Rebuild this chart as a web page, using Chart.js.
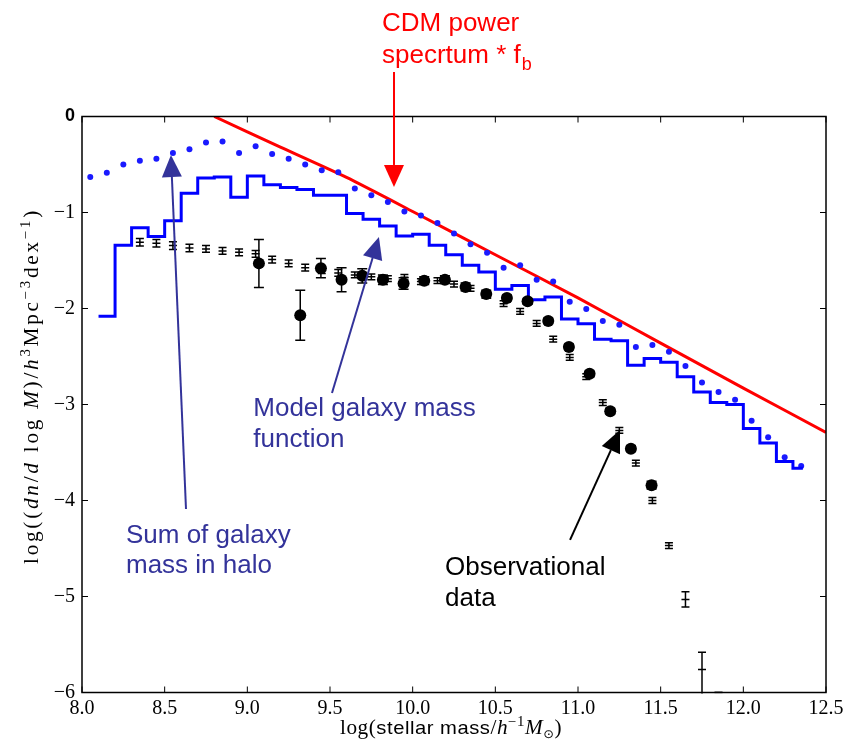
<!DOCTYPE html>
<html><head><meta charset="utf-8">
<script src="https://cdn.jsdelivr.net/npm/chart.js@4.4.0/dist/chart.umd.min.js"></script>
<style>html,body{margin:0;padding:0;background:#fff;}canvas{display:block}</style>
</head><body>
<canvas id="c" width="852" height="739"></canvas>
<script>
// ---- tick labels ----
const xTicks = [8.0, 8.5, 9.0, 9.5, 10.0, 10.5, 11.0, 11.5, 12.0, 12.5];
const yTicks = [0, -1, -2, -3, -4, -5, -6];

// ---- CDM power spectrum * f_b (red curve) ----
const cdmX = [8.8, 9.2, 9.6, 10.0, 10.5, 11.0, 11.5, 12.0, 12.5];
const cdmY = [0.0, -0.32, -0.635, -0.99, -1.44, -1.89, -2.36, -2.83, -3.29];

// ---- Model galaxy mass function (blue step line, left bin edges) ----
const modelX = [8.1, 8.2, 8.3, 8.4, 8.5, 8.6, 8.7, 8.8, 8.9, 9.0, 9.1, 9.2, 9.3, 9.4, 9.5,
  9.6, 9.7, 9.8, 9.9, 10.0, 10.1, 10.2, 10.3, 10.4, 10.5, 10.6, 10.7, 10.8, 10.9, 11.0,
  11.1, 11.2, 11.3, 11.4, 11.5, 11.6, 11.7, 11.8, 11.9, 12.0, 12.1, 12.2, 12.3, 12.36];
const modelY = [-2.08, -1.34, -1.16, -1.25, -1.085, -0.80, -0.64, -0.63, -0.84, -0.62, -0.71, -0.74, -0.76, -0.82, -0.82,
  -1.01, -1.07, -1.14, -1.245, -1.227, -1.34, -1.44, -1.55, -1.62, -1.80, -1.76, -1.91, -1.88, -2.11, -2.16,
  -2.32, -2.335, -2.59, -2.52, -2.56, -2.71, -2.87, -2.98, -3.00, -3.25, -3.40, -3.595, -3.665, -3.665];

// ---- Sum of galaxy mass in halo (blue dots) ----
const haloX = [8.05, 8.15, 8.25, 8.35, 8.45, 8.55, 8.65, 8.75, 8.85, 8.95, 9.05, 9.15, 9.25, 9.35, 9.45,
  9.55, 9.65, 9.75, 9.85, 9.95, 10.05, 10.15, 10.25, 10.35, 10.45, 10.55, 10.65, 10.75, 10.85, 10.95,
  11.05, 11.15, 11.25, 11.35, 11.45, 11.55, 11.65, 11.75, 11.85, 11.95, 12.05, 12.15, 12.25, 12.35];
const haloY = [-0.63, -0.585, -0.50, -0.46, -0.44, -0.38, -0.34, -0.27, -0.26, -0.38, -0.31, -0.39, -0.44, -0.50, -0.56,
  -0.58, -0.75, -0.82, -0.89, -0.99, -1.03, -1.11, -1.22, -1.33, -1.42, -1.575, -1.55, -1.70, -1.72, -1.93,
  -2.005, -2.13, -2.17, -2.40, -2.38, -2.45, -2.60, -2.77, -2.87, -2.95, -3.17, -3.34, -3.55, -3.64];

// ---- Observational data: small markers with error bars ----
const obsSmallX = [8.35, 8.45, 8.55, 8.65, 8.75, 8.85, 8.95, 9.05, 9.15, 9.25, 9.35, 9.45, 9.55, 9.65, 9.75,
  9.85, 9.95, 10.05, 10.15, 10.25, 10.35, 10.45, 10.55, 10.65, 10.75, 10.85, 10.95, 11.05, 11.15, 11.25,
  11.35, 11.45, 11.55, 11.65, 11.75, 11.85];
const obsSmallY = [-1.31, -1.32, -1.345, -1.37, -1.38, -1.40, -1.415, -1.43, -1.49, -1.53, -1.575, -1.60, -1.63, -1.65, -1.67,
  -1.69, -1.675, -1.72, -1.71, -1.745, -1.79, -1.86, -1.95, -2.03, -2.155, -2.32, -2.51, -2.71, -2.98, -3.27,
  -3.61, -4.0, -4.47, -5.03, -5.76, -6.0];
const obsSmallErrUp = [0.04, 0.04, 0.04, 0.04, 0.035, 0.035, 0.035, 0.035, 0.035, 0.035, 0.035, 0.035, 0.035, 0.03, 0.03,
  0.03, 0.03, 0.03, 0.03, 0.03, 0.03, 0.03, 0.03, 0.03, 0.03, 0.03, 0.03, 0.03, 0.03, 0.03,
  0.03, 0.03, 0.03, 0.08, 0.18, 0.0];
const obsSmallErrDown = [0.04, 0.04, 0.04, 0.04, 0.035, 0.035, 0.035, 0.035, 0.035, 0.035, 0.035, 0.035, 0.035, 0.03, 0.03,
  0.03, 0.03, 0.03, 0.03, 0.03, 0.03, 0.03, 0.03, 0.03, 0.03, 0.03, 0.03, 0.03, 0.03, 0.03,
  0.03, 0.03, 0.03, 0.08, 0.6, 0.0];

// ---- Observational data: large circles with error bars ----
const obsBigX = [9.07, 9.32, 9.445, 9.57, 9.695, 9.82, 9.945, 10.07, 10.195, 10.32, 10.445, 10.57, 10.695, 10.82,
  10.945, 11.07, 11.195, 11.32, 11.445];
const obsBigY = [-1.53, -2.07, -1.58, -1.70, -1.66, -1.70, -1.74, -1.71, -1.70, -1.775, -1.85, -1.89, -1.925, -2.13,
  -2.40, -2.68, -3.07, -3.46, -3.84];
const obsBigErr = [0.25, 0.26, 0.10, 0.125, 0.075, 0.05, 0.06, 0.04, 0.04, 0.04, 0.04, 0.03, 0.03, 0.03,
  0.03, 0.03, 0.03, 0.03, 0.04];

// ---- annotations (data coordinates) ----
const annoCDM = {lines: ['CDM power', 'specrtum * f'], sub: 'b', x: 9.8145, y: [0.894, 0.554], color: '#ff0000'};
const annoModel = {lines: ['Model galaxy mass', 'function'], x: 9.036, y: [-3.12, -3.44], color: '#33339a'};
const annoSum = {lines: ['Sum of galaxy', 'mass in halo'], x: 8.266, y: [-4.446, -4.758], color: '#33339a'};
const annoObs = {lines: ['Observational', 'data'], x: 10.196, y: [-4.776, -5.099], color: '#000000'};
const arrows = [
  {from: [9.887, 0.4635], to: [9.887, -0.734], color: '#ff0000'},
  {from: [8.629, -4.089], to: [8.538, -0.401], color: '#33339a'},
  {from: [9.512, -2.880], to: [9.796, -1.255], color: '#33339a'},
  {from: [10.952, -4.411], to: [11.254, -3.266], color: '#000000'}
];

const zip = (xs, ys) => xs.map((x, i) => ({x, y: ys[i]}));

const SERIF = "'Liberation Serif', 'DejaVu Serif', serif";
const SANS = "'Liberation Sans', Arial, sans-serif";

// rich text: parts drawn glyph by glyph with a letter spacing, centred, optional width fit
function partWidth(ctx, p, sp) { ctx.font = p.f; let w = 0; for (const ch of p.t) w += ctx.measureText(ch).width + sp; return w; }
function drawRich(ctx, parts, cx, by, rot, sp, target) {
  ctx.save(); ctx.translate(cx, by); ctx.rotate(rot || 0);
  let w = 0; for (const p of parts) w += partWidth(ctx, p, sp);
  const k = target ? target / w : 1;
  ctx.scale(k, 1);
  let x = -w / 2;
  ctx.textAlign = 'left'; ctx.textBaseline = 'alphabetic'; ctx.fillStyle = '#000';
  for (const p of parts) {
    ctx.font = p.f;
    for (const ch of p.t) { ctx.fillText(ch, x, p.dy || 0); x += ctx.measureText(ch).width + sp; }
  }
  ctx.restore();
}
function arrow(ctx, x0, y0, x1, y1, color) {
  const L = 22, W = 10;
  const ang = Math.atan2(y1 - y0, x1 - x0);
  const bx = x1 - L * Math.cos(ang), by = y1 - L * Math.sin(ang);
  ctx.save(); ctx.strokeStyle = color; ctx.fillStyle = color; ctx.lineWidth = 2;
  ctx.beginPath(); ctx.moveTo(x0, y0); ctx.lineTo(bx, by); ctx.stroke();
  ctx.beginPath(); ctx.moveTo(x1, y1);
  ctx.lineTo(bx + W * Math.sin(ang), by - W * Math.cos(ang));
  ctx.lineTo(bx - W * Math.sin(ang), by + W * Math.cos(ang));
  ctx.closePath(); ctx.fill(); ctx.restore();
}

const deco = {
  id: 'deco',
  afterDatasetsDraw(chart) {
    const {ctx, chartArea: a, scales: {x, y}} = chart;
    ctx.save();
    ctx.beginPath(); ctx.rect(a.left, a.top - 1, a.right - a.left, a.bottom - a.top + 2); ctx.clip();
    ctx.strokeStyle = '#000'; ctx.lineWidth = 1.5;
    const bars = (xs, ys, up, dn, cap) => {
      xs.forEach((xv, i) => {
        const px = x.getPixelForValue(xv);
        const pt = y.getPixelForValue(ys[i] + up[i]);
        const pb = y.getPixelForValue(ys[i] - dn[i]);
        ctx.beginPath();
        ctx.moveTo(px, pt); ctx.lineTo(px, pb);
        ctx.moveTo(px - cap, pt); ctx.lineTo(px + cap, pt);
        ctx.moveTo(px - cap, pb); ctx.lineTo(px + cap, pb);
        ctx.stroke();
      });
    };
    bars(obsSmallX, obsSmallY, obsSmallErrUp, obsSmallErrDown, 4);
    bars(obsBigX, obsBigY, obsBigErr, obsBigErr, 5);
    ctx.restore();
  },
  afterDraw(chart) {
    const {ctx, chartArea: a, scales: {x, y}} = chart;
    ctx.save();
    // box
    ctx.strokeStyle = '#000'; ctx.lineWidth = 1.5;
    ctx.strokeRect(a.left, a.top, a.right - a.left, a.bottom - a.top);
    // inward ticks
    ctx.lineWidth = 1;
    ctx.beginPath();
    x.ticks.forEach(t => { const p = x.getPixelForValue(t.value);
      ctx.moveTo(p, a.bottom); ctx.lineTo(p, a.bottom - 6);
      ctx.moveTo(p, a.top); ctx.lineTo(p, a.top + 6); });
    y.ticks.forEach(t => { const p = y.getPixelForValue(t.value);
      ctx.moveTo(a.left, p); ctx.lineTo(a.left + 6, p);
      ctx.moveTo(a.right, p); ctx.lineTo(a.right - 6, p); });
    ctx.stroke();

    // axis titles
    const s = 20, ss = 14;
    drawRich(ctx, [
      {t: 'log(', f: `${s}px ${SERIF}`},
      {t: 'stellar mass', f: `19px ${SANS}`},
      {t: '/', f: `${s}px ${SERIF}`},
      {t: 'h', f: `italic ${s}px ${SERIF}`},
      {t: '\u22121', f: `${ss}px ${SERIF}`, dy: -8},
      {t: 'M', f: `italic ${s}px ${SERIF}`},
      {t: '\u2299', f: `12px 'DejaVu Sans'`, dy: 4},
      {t: ')', f: `${s}px ${SERIF}`}
    ], 451, 734, 0, 0.5, 222);
    const t = 20, ts = 14;
    drawRich(ctx, [
      {t: 'log((', f: `${t}px ${SERIF}`},
      {t: 'dn', f: `italic ${t}px ${SERIF}`},
      {t: '/', f: `${t}px ${SERIF}`},
      {t: 'd', f: `italic ${t}px ${SERIF}`},
      {t: ' log ', f: `${t}px ${SERIF}`},
      {t: 'M', f: `italic ${t}px ${SERIF}`},
      {t: ')/', f: `${t}px ${SERIF}`},
      {t: 'h', f: `italic ${t}px ${SERIF}`},
      {t: '3', f: `${ts}px ${SERIF}`, dy: -8},
      {t: 'Mpc', f: `${t}px ${SERIF}`},
      {t: '\u22123', f: `${ts}px ${SERIF}`, dy: -8},
      {t: 'dex', f: `${t}px ${SERIF}`},
      {t: '\u22121', f: `${ts}px ${SERIF}`, dy: -8},
      {t: ')', f: `${t}px ${SERIF}`}
    ], 38, 386, -Math.PI / 2, 2.6, 356);

    // annotations
    const af = `26px ${SANS}`;
    [annoCDM, annoModel, annoSum, annoObs].forEach(an => {
      ctx.fillStyle = an.color; ctx.font = af; ctx.textAlign = 'left'; ctx.textBaseline = 'alphabetic';
      const px = x.getPixelForValue(an.x);
      an.lines.forEach((ln, i) => {
        const py = y.getPixelForValue(an.y[i]);
        ctx.font = af; ctx.fillText(ln, px, py);
        if (an.sub && i === an.lines.length - 1) {
          const w = ctx.measureText(ln).width;
          ctx.font = `18px ${SANS}`; ctx.fillText(an.sub, px + w + 1, py + 7);
        }
      });
    });
    arrows.forEach(ar => arrow(ctx, x.getPixelForValue(ar.from[0]), y.getPixelForValue(ar.from[1]),
      x.getPixelForValue(ar.to[0]), y.getPixelForValue(ar.to[1]), ar.color));
    ctx.restore();
  }
};

new Chart(document.getElementById('c'), {
  type: 'scatter',
  data: {
    datasets: [
      {label: 'CDM', type: 'line', data: zip(cdmX, cdmY), borderColor: '#ff0000', borderWidth: 3,
        pointRadius: 0, fill: false, tension: 0.2, order: 5},
      {label: 'Halo', data: zip(haloX, haloY), backgroundColor: '#1a1aff', borderWidth: 0,
        pointRadius: 3, order: 4},
      {label: 'Model', type: 'line', data: zip(modelX, modelY), borderColor: '#0000ff', borderWidth: 3,
        pointRadius: 0, stepped: true, fill: false, order: 3},
      {label: 'ObsSmall', data: zip(obsSmallX, obsSmallY), pointStyle: 'line', pointRadius: 4,
        borderColor: '#000', borderWidth: 1.5, backgroundColor: '#000', order: 2},
      {label: 'ObsBig', data: zip(obsBigX, obsBigY), pointRadius: 6, backgroundColor: '#000',
        borderColor: '#000', borderWidth: 0, order: 1}
    ]
  },
  options: {
    responsive: false, animation: false,
    layout: {padding: {left: 0, top: 116.5, right: 26, bottom: 0}},
    plugins: {legend: {display: false}, tooltip: {enabled: false}},
    scales: {
      x: {type: 'linear', min: 8, max: 12.5,
        afterBuildTicks: s => { s.ticks = xTicks.map(v => ({value: v})); },
        afterFit: s => { s.height = 46.5; },
        grid: {display: false, drawTicks: false}, border: {display: false},
        ticks: {padding: 4, color: '#000', font: {family: SERIF, size: 20},
          callback: v => Number(v).toFixed(1), maxRotation: 0, autoSkip: false}},
      y: {type: 'linear', min: -6, max: 0,
        afterBuildTicks: s => { s.ticks = yTicks.map(v => ({value: v})); },
        afterFit: s => { s.width = 82; },
        grid: {display: false, drawTicks: false}, border: {display: false},
        ticks: {padding: 7, color: '#000',
          font: c => (c.tick && c.tick.value === 0) ? {family: SANS, size: 18, weight: 'bold'} : {family: SERIF, size: 20},
          callback: v => v === 0 ? '0' : '\u2212' + Math.abs(v)}}
    }
  },
  plugins: [deco]
});
</script>
</body></html>
